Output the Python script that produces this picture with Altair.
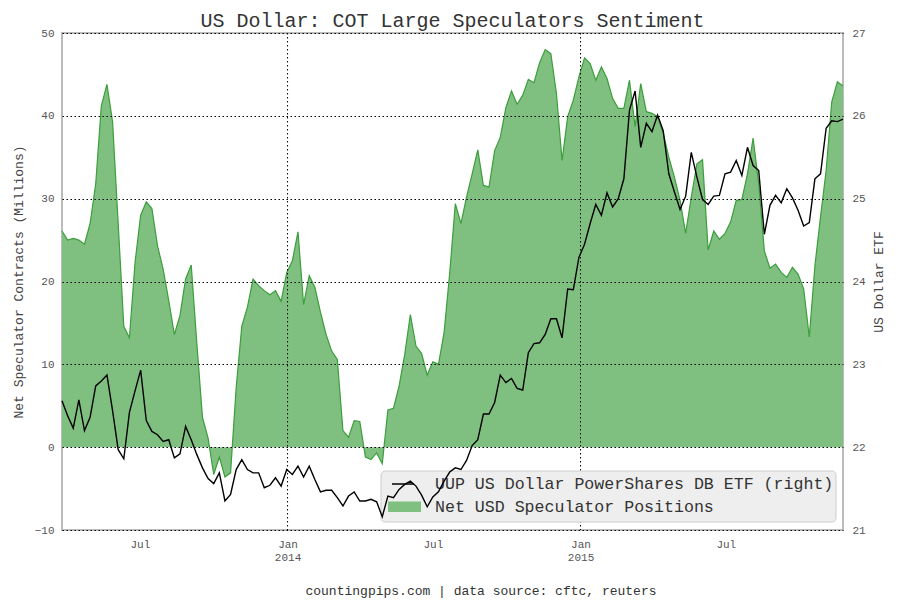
import altair as alt
import pandas as pd

FONT = "Liberation Mono"

# ---------------- data ----------------
start_date = "2013-03-26"   # weekly COT report dates (Tuesdays)

net_positions = [
    26.1, 25.0, 25.2, 25.0, 24.5, 27.0, 31.8, 41.2, 43.8, 39.3,
    27.0, 14.6, 13.2, 22.3, 28.0, 29.6, 28.8, 24.3, 21.5, 17.7,
    13.6, 15.9, 20.3, 22.0, 12.5, 3.6, 1.1, -3.3, -1.2, -3.6,
    -3.1, 7.2, 14.6, 16.9, 20.3, 19.5, 18.9, 18.4, 18.9, 17.6,
    21.1, 22.5, 26.0, 17.2, 20.7, 19.3, 16.3, 13.6, 11.6, 10.6,
    2.0, 1.2, 3.2, 3.1, -1.2, -1.5, -0.7, -2.0, 4.5, 4.7,
    7.4, 11.2, 16.0, 12.2, 11.3, 8.7, 10.3, 10.0, 13.8, 21.0,
    29.4, 27.0, 30.2, 33.0, 35.9, 31.6, 31.4, 35.8, 37.4, 41.0,
    43.0, 41.4, 42.5, 44.4, 44.0, 46.4, 48.0, 47.5, 42.7, 34.6,
    39.9, 41.9, 44.7, 47.0, 46.3, 44.3, 45.9, 44.5, 42.1, 40.9,
    40.9, 44.3, 38.7, 43.9, 40.5, 40.3, 39.9, 37.9, 35.0, 32.6,
    29.8, 25.8, 30.2, 34.2, 34.7, 23.8, 26.1, 25.1, 25.8, 27.2,
    29.8, 29.9, 33.0, 37.3, 31.8, 23.7, 21.6, 22.1, 21.1, 20.5,
    21.7, 20.9, 19.1, 13.3, 21.9, 27.8, 33.4, 41.7, 44.1, 43.6,
]

uup_price = [
    22.56, 22.38, 22.23, 22.57, 22.20, 22.36, 22.74, 22.80, 22.87, 22.44,
    21.97, 21.86, 22.42, 22.68, 22.93, 22.32, 22.19, 22.15, 22.07, 22.09,
    21.87, 21.92, 22.25, 22.09, 21.91, 21.75, 21.62, 21.56, 21.69, 21.35,
    21.43, 21.73, 21.85, 21.73, 21.69, 21.69, 21.51, 21.54, 21.63, 21.53,
    21.73, 21.67, 21.77, 21.64, 21.77, 21.61, 21.46, 21.48, 21.48, 21.39,
    21.29, 21.41, 21.46, 21.35, 21.35, 21.37, 21.34, 21.16, 21.41, 21.39,
    21.49, 21.55, 21.59, 21.53, 21.42, 21.28, 21.40, 21.46, 21.59, 21.70,
    21.75, 21.73, 21.84, 22.02, 22.09, 22.40, 22.40, 22.54, 22.87, 22.78,
    22.83, 22.71, 22.69, 23.14, 23.25, 23.26, 23.36, 23.55, 23.55, 23.32,
    23.91, 23.90, 24.29, 24.45, 24.70, 24.93, 24.80, 25.07, 24.90, 25.00,
    25.24, 26.07, 26.30, 25.62, 25.91, 25.81, 26.01, 25.82, 25.30, 25.08,
    24.87, 25.03, 25.56, 25.26, 24.99, 24.93, 25.03, 25.04, 25.30, 25.32,
    25.46, 25.28, 25.62, 25.40, 25.34, 24.57, 24.92, 25.04, 24.95, 25.12,
    25.01, 24.86, 24.67, 24.71, 25.24, 25.30, 25.85, 25.94, 25.93, 25.96,
]

tick_dates = ["2013-07-01", "2014-01-01", "2014-07-01", "2015-01-01", "2015-07-01"]
grid_dates = ["2014-01-01", "2015-01-01"]
left_ticks = [-10, 0, 10, 20, 30, 40, 50]
right_ticks = [21, 22, 23, 24, 25, 26, 27]

title_text = "US Dollar: COT Large Speculators Sentiment"
left_title = "Net Speculator Contracts (Millions)"
right_title = "US Dollar ETF"
legend_uup = "UUP US Dollar PowerShares DB ETF (right)"
legend_net = "Net USD Speculator Positions"
footer_text = "countingpips.com | data source: cftc, reuters"

# ---------------- build ----------------
dates = pd.date_range(start_date, periods=len(net_positions), freq="7D")
df = pd.DataFrame({
    "date": dates.strftime("%Y-%m-%d"),
    "net": net_positions,
    "uup": uup_price,
})
grid_df = pd.DataFrame({"date": grid_dates})


def dt(s):
    t = pd.Timestamp(s)
    return alt.DateTime(year=t.year, month=t.month, date=t.day, utc=True)


x_scale = alt.Scale(type="utc", domain=[dt(dates[0]), dt(dates[-1])], nice=False)
x_axis = alt.Axis(
    values=[dt(d) for d in tick_dates],
    labelExpr="utcFormat(datum.value, '%m') == '01' ? ['Jan', utcFormat(datum.value, '%Y')] : 'Jul'",
    grid=False, ticks=False, domain=False, title=None,
    labelFont=FONT, labelFontSize=11, labelColor="#555555",
    labelPadding=8, labelLineHeight=13, labelFlush=False,
)
x_enc = alt.X("date:T", scale=x_scale, axis=x_axis)

left_scale = alt.Scale(domain=[-10, 50], nice=False, zero=False)
left_axis = alt.Axis(
    values=left_ticks, grid=True, gridDash=[1.5, 2.5], gridColor="black",
    gridOpacity=1, gridWidth=1, ticks=False, domain=False, zindex=1,
    labelFont=FONT, labelFontSize=11, labelColor="#555555", labelPadding=8,
    title=left_title, titleFont=FONT, titleFontSize=13, titleFontWeight="normal",
    titleColor="#444444", titleAngle=270, titleX=-44, titleY=248.5,
    titleAlign="center", titleBaseline="middle",
)
right_scale = alt.Scale(domain=[21, 27], nice=False, zero=False)
right_axis = alt.Axis(
    orient="right", values=right_ticks, grid=False, ticks=False, domain=False,
    labelFont=FONT, labelFontSize=11, labelColor="#555555", labelPadding=9,
    title=right_title, titleFont=FONT, titleFontSize=13, titleFontWeight="normal",
    titleColor="#444444", titleAngle=270, titleX=35, titleY=248.5,
    titleAlign="center", titleBaseline="middle",
)

base = alt.Chart(df)

area = base.mark_area(color="#7fbf7f", opacity=1).encode(
    x=x_enc,
    y=alt.Y("net:Q", scale=left_scale, axis=left_axis),
    y2=alt.datum(0),
)
gline = base.mark_line(color="#3c9e3c", strokeWidth=1.2).encode(
    x=x_enc,
    y=alt.Y("net:Q", scale=left_scale, axis=left_axis),
)
vrules = alt.Chart(grid_df).mark_rule(
    color="black", strokeDash=[1.5, 2.5], strokeWidth=1
).encode(x=x_enc)

one = alt.Data(values=[{}])
leg_box = alt.Chart(one).mark_rect(
    fill="#eeeeee", stroke="#cccccc", strokeWidth=1, cornerRadius=4
).encode(x=alt.value(319), x2=alt.value(774), y=alt.value(438), y2=alt.value(489))
leg_line = alt.Chart(one).mark_rule(color="black", strokeWidth=1.5).encode(
    x=alt.value(330), x2=alt.value(352), y=alt.value(451)
)
leg_patch = alt.Chart(one).mark_rect(color="#7fbf7f").encode(
    x=alt.value(326), x2=alt.value(359), y=alt.value(468.5), y2=alt.value(479)
)
leg_t1 = alt.Chart(one).mark_text(
    align="left", baseline="middle", font=FONT, fontSize=16.6, color="#333333"
).encode(x=alt.value(373), y=alt.value(451), text=alt.value(legend_uup))
leg_t2 = alt.Chart(one).mark_text(
    align="left", baseline="middle", font=FONT, fontSize=16.6, color="#333333"
).encode(x=alt.value(373), y=alt.value(474), text=alt.value(legend_net))
footer = alt.Chart(one).mark_text(
    align="center", baseline="alphabetic", font=FONT, fontSize=13, color="#333333"
).encode(x=alt.value(419), y=alt.value(562), text=alt.value(footer_text))

left_layer = alt.layer(area, gline, vrules, leg_box, leg_line, leg_patch, leg_t1, leg_t2, footer)

black = base.mark_line(color="black", strokeWidth=1.4).encode(
    x=x_enc,
    y=alt.Y("uup:Q", scale=right_scale, axis=right_axis),
)

chart = (
    alt.layer(left_layer, black)
    .resolve_scale(y="independent")
    .properties(
        width=781, height=497,
        padding={"left": 62, "top": 33, "right": 57, "bottom": 70},
        autosize=alt.AutoSizeParams(type="none"),
        background="white",
        title=alt.Title(
            title_text, font=FONT, fontSize=20, fontWeight="normal",
            color="#333333", anchor="middle", baseline="alphabetic",
            offset=4, dy=24,
        ),
    )
    .configure_view(stroke="#bbbbbb", strokeWidth=2)
)

chart.save("out.html", embed_options={"renderer": "svg", "actions": False})
